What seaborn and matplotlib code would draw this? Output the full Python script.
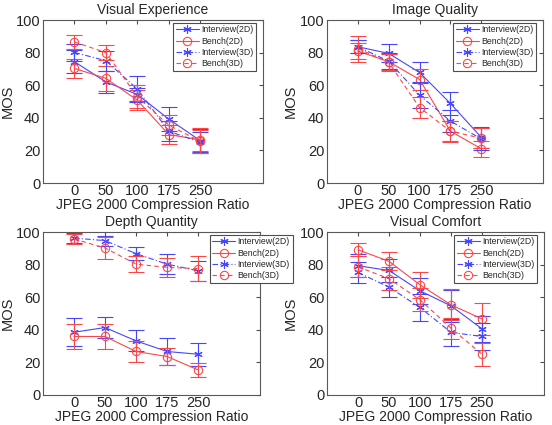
import numpy as np
import pandas as pd
import matplotlib
matplotlib.use('Agg')
import matplotlib.pyplot as plt
import seaborn as sns

ratios = ['0', '50', '100', '175', '250']
series = ['Interview(2D)', 'Bench(2D)', 'Interview(3D)', 'Bench(3D)']

# Visual Experience
ve_i2d = [74.4, 62.0, 54.3, 39.2, 26.0]
ve_b2d = [70.3, 64.2, 50.8, 29.7, 26.5]
ve_i3d = [80.1, 75.0, 57.6, 31.8, 25.0]
ve_b3d = [86.5, 80.0, 52.9, 35.5, 25.5]
ve_i2d_err = [7.0, 7.0, 4.0, 7.5, 7.0]
ve_b2d_err = [6.0, 7.5, 6.0, 6.0, 7.0]
ve_i3d_err = [5.0, 6.0, 8.0, 6.0, 6.5]
ve_b3d_err = [4.5, 4.5, 7.0, 6.0, 7.0]

# Image Quality
iq_i2d = [83.6, 79.5, 67.8, 48.8, 28.0]
iq_b2d = [81.0, 74.4, 63.5, 31.8, 21.0]
iq_i3d = [83.5, 74.8, 53.9, 38.0, 27.0]
iq_b3d = [82.5, 74.0, 46.3, 31.8, 27.5]
iq_i2d_err = [4.0, 5.5, 6.5, 7.0, 6.5]
iq_b2d_err = [5.0, 5.0, 6.5, 6.5, 5.0]
iq_i3d_err = [4.0, 5.0, 8.0, 7.0, 6.5]
iq_b3d_err = [8.0, 5.0, 6.5, 6.0, 6.0]

# Depth Quantity
dq_i2d = [38.5, 41.4, 33.2, 26.7, 25.0]
dq_b2d = [35.9, 35.9, 26.7, 23.6, 15.4]
dq_i3d = [96.3, 94.7, 86.7, 80.3, 76.2]
dq_b3d = [95.7, 90.2, 80.3, 78.3, 77.5]
dq_i2d_err = [8.5, 6.5, 6.5, 8.0, 7.0]
dq_b2d_err = [7.5, 7.5, 6.5, 5.5, 4.5]
dq_i3d_err = [3.0, 3.0, 4.0, 6.0, 6.0]
dq_b3d_err = [3.0, 7.0, 5.0, 6.0, 7.5]

# Visual Comfort
vc_i2d = [79.3, 76.4, 63.9, 54.7, 40.6]
vc_b2d = [89.1, 82.0, 67.6, 55.3, 46.7]
vc_i3d = [75.2, 66.2, 53.7, 38.4, 35.9]
vc_b3d = [78.7, 71.3, 58.4, 41.0, 25.0]
vc_i2d_err = [7.0, 7.0, 8.0, 10.0, 8.0]
vc_b2d_err = [4.0, 5.5, 8.0, 9.5, 10.0]
vc_i3d_err = [6.5, 6.0, 8.0, 8.5, 8.0]
vc_b3d_err = [6.5, 7.0, 7.0, 6.5, 7.0]

panels = [
    ('Visual Experience', [ve_i2d, ve_b2d, ve_i3d, ve_b3d], [ve_i2d_err, ve_b2d_err, ve_i3d_err, ve_b3d_err]),
    ('Image Quality', [iq_i2d, iq_b2d, iq_i3d, iq_b3d], [iq_i2d_err, iq_b2d_err, iq_i3d_err, iq_b3d_err]),
    ('Depth Quantity', [dq_i2d, dq_b2d, dq_i3d, dq_b3d], [dq_i2d_err, dq_b2d_err, dq_i3d_err, dq_b3d_err]),
    ('Visual Comfort', [vc_i2d, vc_b2d, vc_i3d, vc_b3d], [vc_i2d_err, vc_b2d_err, vc_i3d_err, vc_b3d_err]),
]

sns.set_style('white')
plt.rcParams['font.family'] = ['Liberation Sans', 'DejaVu Sans']

blue = '#4646ff'
red = '#ff4646'
colors = [blue, red, blue, red]
markers = [(6, 2, 0), 'o', (6, 2, 0), 'o']
styles = ['-', '-', (0, (5, 2, 1, 2)), (0, (4, 3))]

fig = plt.figure(figsize=(5.52, 4.25), dpi=100)
rects = [
    [0.078, 0.5694, 0.3986, 0.3835],
    [0.5924, 0.5694, 0.3913, 0.3835],
    [0.078, 0.0706, 0.3931, 0.3835],
    [0.5924, 0.0706, 0.3931, 0.3835],
]
leg_anchor = [(0.968, 0.983), (0.968, 0.983), (1.15, 0.983), (0.968, 0.983)]

pos = np.arange(1, len(ratios) + 1)

for k, (title, vals, errs) in enumerate(panels):
    ax = fig.add_axes(rects[k])
    for j, name in enumerate(series):
        df = pd.DataFrame({'x': pos, 'y': vals[j]})
        sns.lineplot(data=df, x='x', y='y', ax=ax, color=colors[j],
                     marker=markers[j], markersize=6, markerfacecolor='none',
                     markeredgecolor=colors[j], markeredgewidth=0.8,
                     linestyle=styles[j], linewidth=0.8, label=name)
        ax.errorbar(pos, vals[j], yerr=errs[j], fmt='none', ecolor=colors[j],
                    elinewidth=0.8, capsize=6, capthick=0.8)
    ax.set_xlim(0, 7)
    ax.set_ylim(0, 100)
    ax.set_xticks(pos)
    ax.set_xticklabels(ratios)
    ax.set_yticks([0, 20, 40, 60, 80, 100])
    ax.tick_params(direction='in', top=True, right=True, length=3,
                   labelsize=10.5, color='0.3')
    ax.tick_params(axis='x', pad=1)
    ax.tick_params(axis='y', pad=2)
    for sp in ax.spines.values():
        sp.set_color('0.35')
        sp.set_linewidth(0.8)
    ax.set_title(title, fontsize=10, pad=4)
    ax.set_xlabel('JPEG 2000 Compression Ratio', fontsize=10, labelpad=0)
    ax.set_ylabel('MOS', fontsize=10.5, labelpad=1)
    leg = ax.legend(loc='upper right', bbox_to_anchor=leg_anchor[k],
                    borderaxespad=0, fontsize=6.3, fancybox=False,
                    framealpha=1, edgecolor='0.3', handlelength=2.6,
                    handletextpad=0.3, borderpad=0.3, labelspacing=0.25)
    leg.get_frame().set_linewidth(0.8)
    leg.set_zorder(10)

fig.savefig('out.png', dpi=100)
